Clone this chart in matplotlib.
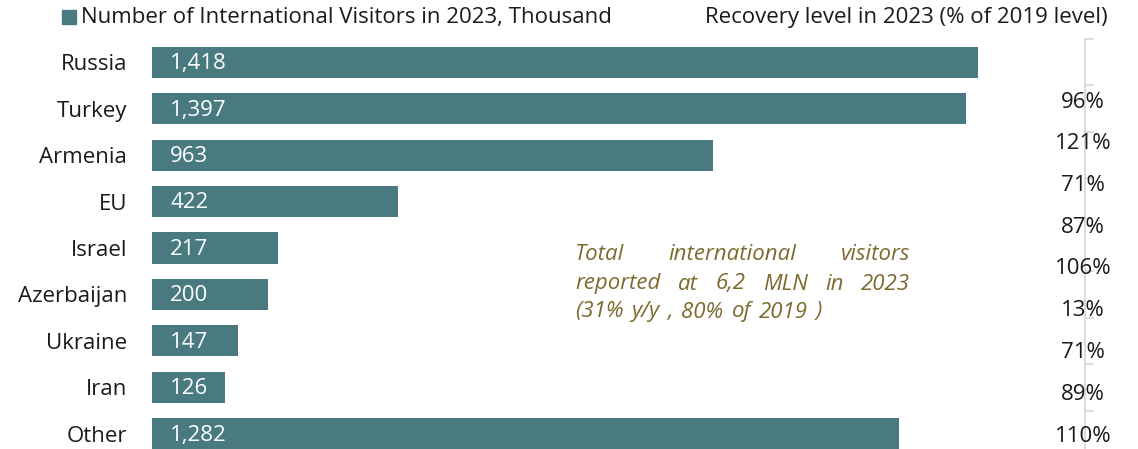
import matplotlib
matplotlib.use("Agg")
import matplotlib.pyplot as plt
from matplotlib.patches import Rectangle

countries = ["Russia", "Turkey", "Armenia", "EU", "Israel", "Azerbaijan", "Ukraine", "Iran", "Other"]
visitors = [1418, 1397, 963, 422, 217, 200, 147, 126, 1282]
recovery = ["96%", "121%", "71%", "87%", "106%", "13%", "71%", "89%", "110%"]

legend_label = "Number of International Visitors in 2023, Thousand"
right_title = "Recovery level in 2023 (% of 2019 level)"
note_lines = [["Total", "international", "visitors"],
              ["reported", "at", "6,2", "MLN", "in", "2023"],
              ["(31%", "y/y", ",", "80%", "of", "2019", ")"]]

BAR = "#497a80"
NOTE = "#7d6a2f"
TXT = "#1a1a1a"
FONT = "Open Sans"
FS = 16

W, H = 1138, 449
fig = plt.figure(figsize=(W / 100, H / 100), dpi=100)
plt.rcParams["font.family"] = [FONT, "DejaVu Sans"]

def fx(px):
    return px / W

def fy(py):
    return 1 - py / H

# main bar axes: category band -0.5..8.5 spans pixel rows 39..457
top_px, bot_px = 39, 457
ax = fig.add_axes([fx(152), fy(bot_px), fx(1085) - fx(152), (bot_px - top_px) / H])
ypos = list(range(len(countries)))
ax.barh(ypos, visitors, height=0.67, color=BAR, left=0)
ax.set_xlim(0, 1602)
ax.set_ylim(len(countries) - 0.5, -0.5)
for s in ax.spines.values():
    s.set_visible(False)
ax.set_xticks([])
ax.set_yticks(ypos)
ax.set_yticklabels(countries, fontsize=FS, color=TXT)
ax.tick_params(axis="y", length=0, pad=18)

for y, v in zip(ypos, visitors):
    ax.annotate(f"{v:,}", xy=(0, y), xytext=(13, -1), textcoords="offset points",
                ha="left", va="center", color="white", fontsize=FS)

# right-hand category line with boundary ticks
ax.plot([1, 1], [1, 0], transform=ax.transAxes, color="#d9d9d9", lw=1.3, clip_on=False)
for b in range(len(countries) + 1):
    yb = b - 0.5
    ax.plot([1602, 1602 + 14], [yb, yb], color="#d9d9d9", lw=1.3, clip_on=False)

# recovery labels
rec_top, rec_step = 102, 41.75
for i, r in enumerate(recovery):
    fig.text(fx(1083), fy(rec_top + i * rec_step), r, ha="center", va="center",
             fontsize=FS, color=TXT)

# legend and right header
fig.patches.append(Rectangle((fx(62), fy(24)), fx(14), 14 / H, transform=fig.transFigure,
                             color=BAR))
fig.text(fx(81), fy(17), legend_label, ha="left", va="center", fontsize=FS, color=TXT)
fig.text(fx(1108), fy(17), right_title, ha="right", va="center", fontsize=FS, color=TXT)

# justified italic note
fig.canvas.draw()
renderer = fig.canvas.get_renderer()
x0, x1 = 575, 910
line_y = [255, 284, 312]
for li, (words, ly) in enumerate(zip(note_lines, line_y)):
    texts = [fig.text(0, fy(ly), w, ha="left", va="center", fontsize=FS,
                      style="italic", color=NOTE) for w in words]
    widths = [t.get_window_extent(renderer).width for t in texts]
    if li < len(note_lines) - 1 and len(words) > 1:
        gap = (x1 - x0 - sum(widths)) / (len(words) - 1)
    else:
        gap = 8
    x = x0
    for t, wdt in zip(texts, widths):
        t.set_x(fx(x))
        x += wdt + gap

fig.savefig("out.png", dpi=100)
